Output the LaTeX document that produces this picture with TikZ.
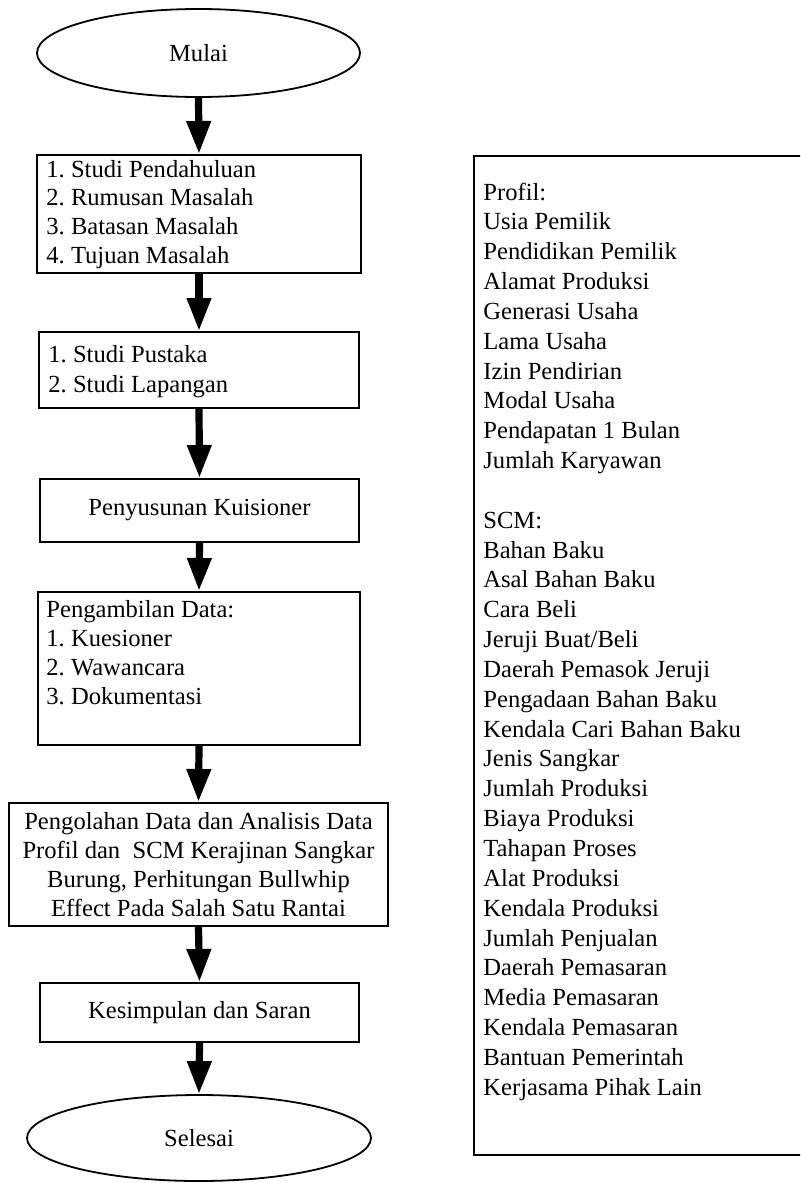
\documentclass[tikz,border=0pt]{standalone}
\usepackage{fontspec}
\setmainfont{Liberation Serif}
\usetikzlibrary{shapes.geometric,arrows.meta}
\begin{document}
\frenchspacing
\begin{tikzpicture}[x=0.5pt,y=-0.5pt,
  every node/.style={font=\fontsize{12.3pt}{14.4pt}\selectfont},
  term/.style={draw,ellipse,line width=0.9pt,inner sep=0pt},
  stepbox/.style={draw,rectangle,line width=1pt,inner sep=0pt,align=center},
  txt/.style={anchor=base west,inner sep=0pt,text width=160pt,align=flush left},
  flow/.style={line width=3.6pt,-{Triangle[length=16.5pt,width=11.5pt]}}
]
\useasboundingbox (0,0) rectangle (800,1183);
\clip (0,0) rectangle (800,1183);
\node[term,minimum width=161.5pt,minimum height=44pt] (mulai) at (198.5,53) {Mulai};
\node[stepbox,minimum width=162pt,minimum height=59pt] (b1) at (199,214) {};
\node[txt] (t1) at (46,177) {1. Studi Pendahuluan\\2. Rumusan Masalah\\3. Batasan Masalah\\4. Tujuan Masalah};
\node[stepbox,minimum width=160pt,minimum height=38pt] (b2) at (199,370) {};
\node[txt,font=\fontsize{12.3pt}{15.4pt}\selectfont] (t2) at (48,362) {1. Studi Pustaka\\2. Studi Lapangan};
\node[stepbox,minimum width=159.5pt,minimum height=31.5pt] (b3) at (199.5,510.5) {Penyusunan Kuisioner};
\node[stepbox,minimum width=161pt,minimum height=76.5pt] (b4) at (199,668.5) {};
\node[txt,font=\fontsize{12.3pt}{14.65pt}\selectfont] (t4) at (46,617) {Pengambilan Data:\\1. Kuesioner\\2. Wawancara\\3. Dokumentasi};
\node[stepbox,minimum width=189.5pt,minimum height=61.5pt] (b5) at (198.5,864.5) {Pengolahan Data dan Analisis Data\\Profil dan\ \ SCM Kerajinan Sangkar\\Burung, Perhitungan Bullwhip\\Effect Pada Salah Satu Rantai};
\node[stepbox,minimum width=159.5pt,minimum height=29.5pt] (b6) at (199.5,1012.5) {Kesimpulan dan Saran};
\node[term,minimum width=172pt,minimum height=43pt] (selesai) at (199,1138) {Selesai};
\node[stepbox,minimum width=166pt,minimum height=499.5pt] (rb) at (640,655.5) {};
\node[txt,font=\fontsize{12.3pt}{14.92pt}\selectfont] (rt) at (483,200) {Profil:\\Usia Pemilik\\Pendidikan Pemilik\\Alamat Produksi\\Generasi Usaha\\Lama Usaha\\Izin Pendirian\\Modal Usaha\\Pendapatan 1 Bulan\\Jumlah Karyawan\\[14.92pt]SCM:\\Bahan Baku\\Asal Bahan Baku\\Cara Beli\\Jeruji Buat/Beli\\Daerah Pemasok Jeruji\\Pengadaan Bahan Baku\\Kendala Cari Bahan Baku\\Jenis Sangkar\\Jumlah Produksi\\Biaya Produksi\\Tahapan Proses\\Alat Produksi\\Kendala Produksi\\Jumlah Penjualan\\Daerah Pemasaran\\Media Pemasaran\\Kendala Pemasaran\\Bantuan Pemerintah\\Kerjasama Pihak Lain};
\draw[flow] (mulai.south) -- (b1.north);
\draw[flow] (b1.south) -- (b2.north);
\draw[flow] (b2.south) -- (b3.north);
\draw[flow] (b3.south) -- (b4.north);
\draw[flow] (b4.south) -- (b5.north);
\draw[flow] (b5.south) -- (b6.north);
\draw[flow] (b6.south) -- (selesai.north);
\end{tikzpicture}
\end{document}
